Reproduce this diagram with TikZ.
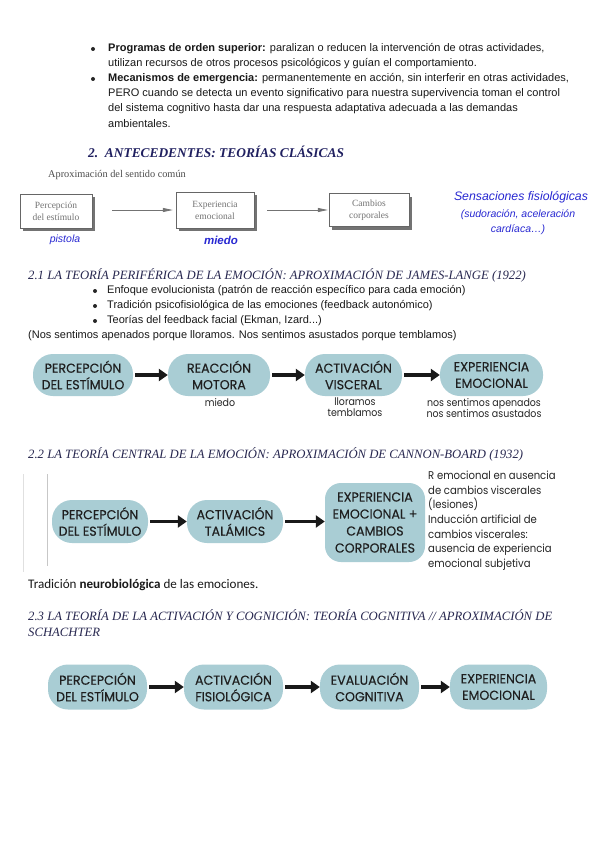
\documentclass[tikz,border=0pt]{standalone}
\usepackage{fontspec}
\setmainfont{Liberation Serif}
\newfontfamily\arial{Liberation Sans}
\newfontfamily\pillfont[FakeStretch=0.97,FakeBold=0.3]{Poppins}
\newfontfamily\lblfont[FakeStretch=0.9]{Poppins}
\newfontfamily\calib{Carlito}
\usetikzlibrary{arrows.meta,shadows}
\definecolor{navy}{RGB}{32,32,96}
\definecolor{headc}{RGB}{40,40,80}
\definecolor{pillc}{RGB}{169,205,212}
\definecolor{bluet}{RGB}{40,40,210}
\begin{document}
\begin{tikzpicture}[x=1pt,y=-1pt,
  txt/.style={anchor=west,inner sep=0pt,font=\arial\fontsize{11}{13}\selectfont,text=black!90},
  pill/.style={fill=pillc,rounded corners=20pt,minimum height=42pt,inner sep=0pt,align=center,font=\pillfont\fontsize{13}{16.5}\selectfont,text=black!88},
  bigarrow/.style={line width=3.6pt,-{Triangle[length=9pt,width=12pt]},black!90,shorten <=2pt},
  lbl/.style={inner sep=0pt,align=center,font=\lblfont\fontsize{10.5}{11}\selectfont,text=black!85},
  sect/.style={anchor=west,inner sep=0pt,font=\fontsize{12.7}{14}\selectfont\itshape,text=headc},
  oldbox/.style={draw=black!60,fill=white,inner sep=0pt,align=center,font=\fontsize{9.5}{12}\selectfont,text=black!55,
    drop shadow={shadow xshift=3pt,shadow yshift=-3pt,fill=black!55,opacity=1}},
  oldarrow/.style={draw=black!55,line width=0.8pt,-{Triangle[length=10pt,width=4pt]}},
  bul/.style={circle,fill=black!85,inner sep=0pt,minimum size=4pt}
]
\fill[white] (0,0) rectangle (600,848);
\useasboundingbox (0,0) rectangle (600,848);

% top bullets
\node[bul] (b1) at (93,49) {};
\node[txt] (t1) at (108,49) {\textbf{Programas de orden superior:} paralizan o reducen la intervención de otras actividades,};
\node[txt] (t2) at (108,64) {utilizan recursos de otros procesos psicológicos y guían el comportamiento.};
\node[bul] (b2) at (93,79) {};
\node[txt] (t3) at (108,79) {\textbf{Mecanismos de emergencia:} permanentemente en acción, sin interferir en otras actividades,};
\node[txt] (t4) at (108,94) {PERO cuando se detecta un evento significativo para nuestra supervivencia toman el control};
\node[txt] (t5) at (108,109) {del sistema cognitivo hasta dar una respuesta adaptativa adecuada a las demandas};
\node[txt] (t6) at (108,124) {ambientales.};

% heading 2
\node[anchor=west,inner sep=0pt,font=\fontsize{13.4}{15}\selectfont\bfseries\itshape,text=navy] (h2) at (88,152) {2.\ \ ANTECEDENTES: TEORÍAS CLÁSICAS};
\node[anchor=west,inner sep=0pt,font=\fontsize{10.3}{12}\selectfont,text=black!70] (ap) at (48,175) {Aproximación del sentido común};

% common-sense diagram
\node[oldbox,minimum width=72pt,minimum height=34pt] (p1) at (56,211) {Percepción\\del estímulo};
\node[oldbox,minimum width=78pt,minimum height=36pt] (p2) at (215,210) {Experiencia\\emocional};
\node[oldbox,minimum width=80pt,minimum height=33pt] (p3) at (369,210) {Cambios\\corporales};
\draw[oldarrow,shorten <=20pt,shorten >=3pt] (p1.east |- p2) -- (p2);
\draw[oldarrow,shorten <=13pt,shorten >=1pt] (p2) -- (p3);
\node[font=\arial\itshape\fontsize{10.5}{12}\selectfont,text=bluet,inner sep=0pt] (ps) at (65,240) {pistola};
\node[font=\arial\bfseries\itshape\fontsize{11.5}{12}\selectfont,text=bluet,inner sep=0pt] (mi) at (221,240) {miedo};
\node[font=\arial\itshape\fontsize{12.3}{13}\selectfont,text=bluet,inner sep=0pt] (sf) at (521,197) {Sensaciones fisiológicas};
\node[font=\arial\itshape\fontsize{10.5}{15}\selectfont,text=bluet,inner sep=0pt,align=center] (sd) at (518,222) {(sudoración, aceleración\\cardíaca…)};

% 2.1
\node[sect] (s21) at (28,275) {2.1 LA TEORÍA PERIFÉRICA DE LA EMOCIÓN: APROXIMACIÓN DE JAMES-LANGE (1922)};
\node[bul] (b3) at (95,291) {};
\node[txt] (t7) at (107,291) {Enfoque evolucionista (patrón de reacción específico para cada emoción)};
\node[bul] (b4) at (95,306) {};
\node[txt] (t8) at (107,306) {Tradición psicofisiológica de las emociones (feedback autonómico)};
\node[bul] (b5) at (95,321) {};
\node[txt] (t9) at (107,321) {Teorías del feedback facial (Ekman, Izard...)};
\node[txt] (t10) at (28,336) {(Nos sentimos apenados porque lloramos. Nos sentimos asustados porque temblamos)};

\node[pill,minimum width=100pt] (a1) at (83,375) {PERCEPCIÓN\\DEL ESTÍMULO};
\node[pill,minimum width=102pt] (a2) at (219,375) {REACCIÓN\\MOTORA};
\node[pill,minimum width=97pt] (a3) at (353.5,375) {ACTIVACIÓN\\VISCERAL};
\node[pill,minimum width=103pt] (a4) at (491.5,375) {EXPERIENCIA\\EMOCIONAL};
\draw[bigarrow] (a1) -- (a2);
\draw[bigarrow] (a2) -- (a3);
\draw[bigarrow] (a3) -- (a4);
\node[lbl,anchor=north] (l2) at (220,398) {miedo};
\node[lbl,anchor=north] (l3) at (355,398) {lloramos\\temblamos};
\node[lbl,anchor=north] (l4) at (484,398) {nos sentimos apenados\\nos sentimos asustados};

% 2.2
\node[sect] (s22) at (28,454) {2.2 LA TEORÍA CENTRAL DE LA EMOCIÓN: APROXIMACIÓN DE CANNON-BOARD (1932)};
\draw[black!12,line width=0.8pt] (23,474) -- (23,572);
\draw[black!22,line width=0.8pt] (47,474) -- (47,566);
\node[pill,minimum width=96pt,minimum height=43pt] (c1) at (100,521.5) {PERCEPCIÓN\\DEL ESTÍMULO};
\node[pill,minimum width=96pt,minimum height=43pt] (c2) at (235,521.5) {ACTIVACIÓN\\TALÁMICS};
\node[pill,minimum width=100pt,minimum height=79pt,rounded corners=16pt,font=\pillfont\fontsize{13}{17}\selectfont] (c3) at (375,522.5) {EXPERIENCIA\\EMOCIONAL +\\CAMBIOS\\CORPORALES};
\draw[bigarrow] (c1) -- (c2);
\draw[bigarrow] (c2.east |- c1) -- (c3.west |- c1);
\node[lbl,anchor=north west,align=left,font=\lblfont\fontsize{11.2}{14.6}\selectfont] (rt) at (428,471) {R emocional en ausencia\\de cambios viscerales\\(lesiones)\\Inducción artificial de\\cambios viscerales:\\ausencia de experiencia\\emocional subjetiva};
\node[anchor=west,inner sep=0pt,font=\calib\fontsize{13.1}{15}\selectfont,text=black!90] (tn) at (28,585) {Tradición \textbf{neurobiológica} de las emociones.};

% 2.3
\node[sect] (s23) at (28,615) {2.3 LA TEORÍA DE LA ACTIVACIÓN Y COGNICIÓN: TEORÍA COGNITIVA // APROXIMACIÓN DE};
\node[sect] (s23b) at (28,632) {SCHACHTER};
\node[pill,minimum width=99pt,minimum height=45pt] (d1) at (97.5,687) {PERCEPCIÓN\\DEL ESTÍMULO};
\node[pill,minimum width=99pt,minimum height=45pt] (d2) at (233.5,687) {ACTIVACIÓN\\FISIOLÓGICA};
\node[pill,minimum width=99pt,minimum height=45pt] (d3) at (369.5,687) {EVALUACIÓN\\COGNITIVA};
\node[pill,minimum width=97pt,minimum height=45pt] (d4) at (498.5,687) {EXPERIENCIA\\EMOCIONAL};
\draw[bigarrow] (d1) -- (d2);
\draw[bigarrow] (d2) -- (d3);
\draw[bigarrow] (d3) -- (d4);
\end{tikzpicture}
\end{document}
